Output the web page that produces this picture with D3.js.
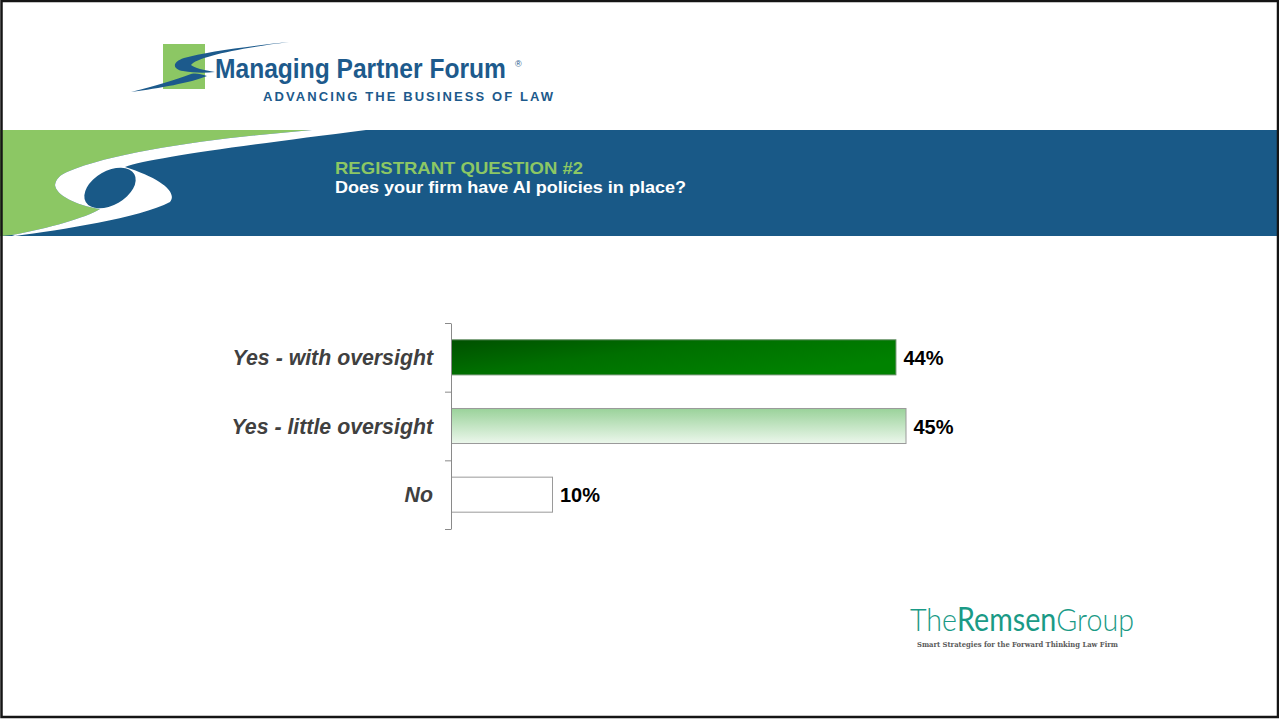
<!DOCTYPE html>
<html>
<head>
<meta charset="utf-8">
<script src="https://cdn.jsdelivr.net/npm/d3@7"></script>
<style>
  html, body { margin: 0; padding: 0; background: #fff; }
  svg { display: block; }
</style>
</head>
<body>
<div id="chart"></div>
<script>
// data
const categories = ['Yes - with oversight', 'Yes - little oversight', 'No']
const shares = [44, 45, 10]
const valueLabels = ['44%', '45%', '10%']
const fills = ['url(#gradDark)', 'url(#gradLight)', '#ffffff']
const strokes = ['#5f8a5f', '#9a9a9a', '#9a9a9a']

const W = 1279
const H = 719

const svg = d3.select('#chart').append('svg')
  .attr('width', W)
  .attr('height', H)

const defs = svg.append('defs')

const gDark = defs.append('linearGradient')
  .attr('id', 'gradDark')
  .attr('x1', 0).attr('y1', 0).attr('x2', 1).attr('y2', 0.6)
gDark.append('stop').attr('offset', '0%').attr('stop-color', '#005000')
gDark.append('stop').attr('offset', '45%').attr('stop-color', '#006f00')
gDark.append('stop').attr('offset', '100%').attr('stop-color', '#008200')

const gLight = defs.append('linearGradient')
  .attr('id', 'gradLight')
  .attr('x1', 0).attr('y1', 0).attr('x2', 0).attr('y2', 1)
gLight.append('stop').attr('offset', '0%').attr('stop-color', '#9ad29a')
gLight.append('stop').attr('offset', '100%').attr('stop-color', '#ecf7ec')

// squeeze a text horizontally so it spans `width` px from (x, y)
const fitText = (sel, x, y, width) => {
  const natural = sel.node().getComputedTextLength()
  sel.attr('x', 0).attr('y', 0)
    .attr('transform', `translate(${x},${y}) scale(${width / natural},1)`)
}

// ---- header logo (Managing Partner Forum)
const logo = svg.append('g')
logo.append('rect')
  .attr('x', 163).attr('y', 44).attr('width', 42).attr('height', 45)
  .attr('fill', '#8cc764')
// upper part of the S swoosh
logo.append('path')
  .attr('fill', '#1c5a8c')
  .attr('d', 'M289,42 C250,46 205,52 184,58 C172,62 172,69 183,71 C194,73 205,73 215,72 C204,70 194,68 191,65 C196,57 240,48 289,42 Z')
// lower tail
logo.append('path')
  .attr('fill', '#1c5a8c')
  .attr('d', 'M131,92 C160,88 190,83 207,76 C201,74 196,73 191,74 C175,80 155,86 131,92 Z')

const mpf = logo.append('text')
  .attr('font-family', 'Liberation Sans, Arial, sans-serif')
  .attr('font-weight', 'bold')
  .attr('font-size', 27)
  .attr('fill', '#1d5a8c')
  .text('Managing Partner Forum')
fitText(mpf, 215, 78, 291)

logo.append('text')
  .attr('x', 515).attr('y', 67)
  .attr('font-family', 'Liberation Sans, Arial, sans-serif')
  .attr('font-size', 9)
  .attr('fill', '#1d5a8c')
  .text('®')
logo.append('text')
  .attr('x', 263).attr('y', 101)
  .attr('font-family', 'Liberation Sans, Arial, sans-serif')
  .attr('font-weight', 'bold')
  .attr('font-size', 13)
  .attr('textLength', 290)
  .attr('lengthAdjust', 'spacing')
  .attr('fill', '#1d5a8c')
  .text('ADVANCING THE BUSINESS OF LAW')

// ---- banner
const banner = svg.append('g')
banner.append('rect')
  .attr('x', 0).attr('y', 130).attr('width', 1278).attr('height', 106)
  .attr('fill', '#195987')
banner.append('path')
  .attr('fill', '#8cc764')
  .attr('d', 'M0,130 L312,130 C220,138 120,150 67,172 C60,175 56,179 55,185 C56,195 75,205 100,209 C85,218 50,228 12,235 L0,236 Z')
banner.append('path')
  .attr('fill', '#ffffff')
  .attr('d', 'M312,130 L366,130 C240,146 150,158 125,167 C160,178 178,192 170,202 C140,218 60,230 15,236 L12,235 C50,228 85,218 100,209 C75,205 56,195 55,185 C56,179 60,175 67,172 C120,150 220,138 312,130 Z')
banner.append('ellipse')
  .attr('cx', 110).attr('cy', 188).attr('rx', 28).attr('ry', 17)
  .attr('transform', 'rotate(-30 110 188)')
  .attr('fill', '#195987')

banner.append('text')
  .attr('x', 335).attr('y', 174)
  .attr('font-family', 'Liberation Sans, Arial, sans-serif')
  .attr('font-weight', 'bold')
  .attr('font-size', 17)
  .attr('textLength', 248)
  .attr('lengthAdjust', 'spacingAndGlyphs')
  .attr('fill', '#8cc764')
  .text('REGISTRANT QUESTION #2')
banner.append('text')
  .attr('x', 335).attr('y', 193)
  .attr('font-family', 'Liberation Sans, Arial, sans-serif')
  .attr('font-weight', 'bold')
  .attr('font-size', 16.5)
  .attr('textLength', 351)
  .attr('lengthAdjust', 'spacingAndGlyphs')
  .attr('fill', '#ffffff')
  .text('Does your firm have AI policies in place?')

// ---- chart
const x = d3.scaleLinear().domain([0, 100]).range([451, 1461])
const y = d3.scaleBand()
  .domain(categories)
  .range([323, 529])
  .paddingInner(0.49)
  .paddingOuter(0.245)
const edges = d3.scaleLinear().domain([0, categories.length]).range([323, 529])

const chart = svg.append('g')

chart.selectAll('rect.bar')
  .data(categories)
  .join('rect')
  .attr('class', 'bar')
  .attr('x', x(0) + 0.5)
  .attr('y', d => y(d))
  .attr('width', (d, i) => x(shares[i]) - x(0))
  .attr('height', y.bandwidth())
  .attr('fill', (d, i) => fills[i])
  .attr('stroke', (d, i) => strokes[i])
  .attr('stroke-width', 1)

const axis = chart.append('g')
  .attr('transform', `translate(${x(0)},0)`)
  .call(d3.axisLeft(edges)
    .tickValues(d3.range(categories.length + 1))
    .tickSize(6)
    .tickSizeOuter(0)
    .tickFormat(''))
axis.selectAll('path, line').attr('stroke', '#8a8a8a')

chart.selectAll('text.cat')
  .data(categories)
  .join('text')
  .attr('class', 'cat')
  .attr('x', 433)
  .attr('y', d => y(d) + y.bandwidth() / 2 + 7.5)
  .attr('text-anchor', 'end')
  .attr('font-family', 'Liberation Sans, Arial, sans-serif')
  .attr('font-weight', 'bold')
  .attr('font-style', 'italic')
  .attr('font-size', 21.3)
  .attr('fill', '#404040')
  .text(d => d)

chart.selectAll('text.val')
  .data(categories)
  .join('text')
  .attr('class', 'val')
  .attr('x', (d, i) => x(shares[i]) + 8)
  .attr('y', d => y(d) + y.bandwidth() / 2 + 7.5)
  .attr('font-family', 'Liberation Sans, Arial, sans-serif')
  .attr('font-weight', 'bold')
  .attr('font-size', 20)
  .attr('fill', '#000000')
  .text((d, i) => valueLabels[i])

// ---- footer logo (The Remsen Group)
const remsenParts = [['The', 300], ['Remsen', 400], ['Group', 300]]
const remsen = svg.append('g')
let cursor = 0
remsenParts.forEach(([word, weight]) => {
  const t = remsen.append('text')
    .attr('x', cursor).attr('y', 0)
    .attr('font-family', 'Lato, Noto Sans, sans-serif')
    .attr('font-weight', weight)
    .attr('font-size', 32)
    .attr('fill', '#1a9a86')
    .text(word)
  cursor += t.node().getComputedTextLength()
})
remsen.attr('transform', `translate(910,631) scale(${224 / cursor},1)`)

svg.append('text')
  .attr('x', 917).attr('y', 647)
  .attr('font-family', 'DejaVu Serif, Liberation Serif, serif')
  .attr('font-weight', 'bold')
  .attr('font-size', 8)
  .attr('textLength', 201)
  .attr('lengthAdjust', 'spacingAndGlyphs')
  .attr('fill', '#5a5a5a')
  .text('Smart Strategies for the Forward Thinking Law Firm')

// ---- frame
svg.append('rect')
  .attr('x', 1.5).attr('y', 1).attr('width', 1276.5).attr('height', 716)
  .attr('fill', 'none')
  .attr('stroke', '#151515')
  .attr('stroke-width', 2.5)
</script>
</body>
</html>
